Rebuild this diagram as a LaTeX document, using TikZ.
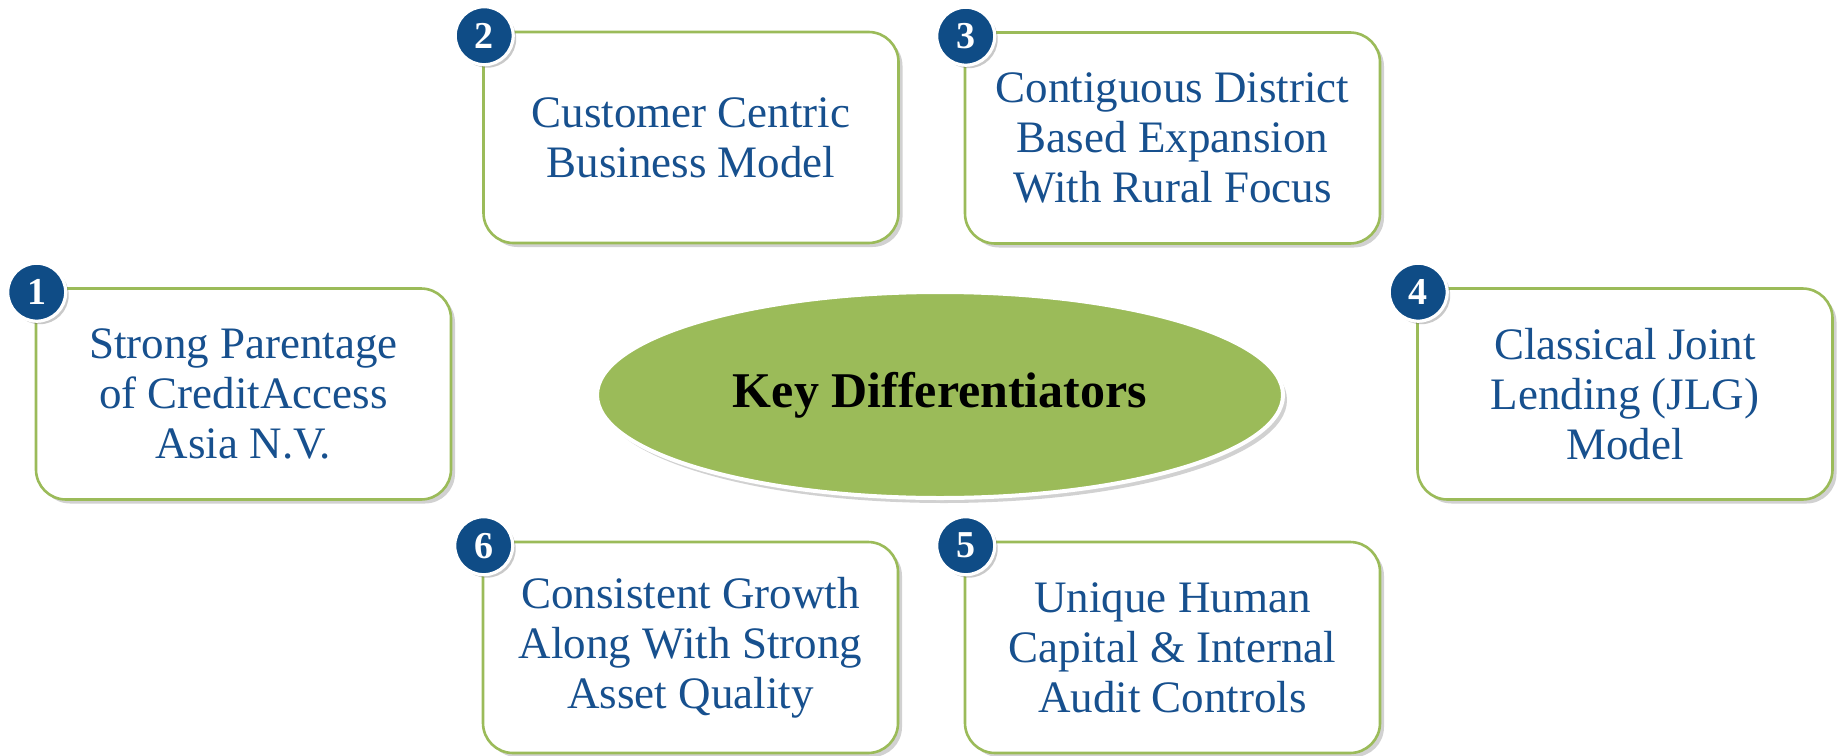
\documentclass[tikz,border=0pt]{standalone}
\usepackage{fontspec}
\setmainfont{Liberation Serif}
\usepackage{xcolor}
\usepackage{tikz}
\usetikzlibrary{shapes.geometric,shadows}
\definecolor{cgreen}{HTML}{9BBB59}
\definecolor{cblue}{HTML}{0F4C86}
\definecolor{ctext}{HTML}{17508E}
\tikzset{
  diffbox/.style={draw=cgreen, line width=1.3pt, fill=white, rounded corners=15pt, minimum width=207.5pt, minimum height=105.5pt, align=center, text=ctext, font=\fontsize{22.5}{25}\selectfont, drop shadow={shadow xshift=2pt, shadow yshift=-2pt, opacity=0.3, fill=black!60}},
  badge/.style={circle, draw=white, line width=1.6pt, fill=cblue, text=white, minimum size=29pt, inner sep=0pt, font=\fontsize{19}{19}\selectfont\bfseries, drop shadow={shadow xshift=1.5pt, shadow yshift=-1.5pt, opacity=0.35, fill=black!60}},
  hub/.style={ellipse, draw=white, line width=2pt, fill=cgreen, minimum width=343pt, minimum height=103pt, font=\fontsize{25}{25}\selectfont\bfseries, drop shadow={shadow xshift=2pt, shadow yshift=-2.5pt, opacity=0.3, fill=black!60}},
}
\begin{document}
\begin{tikzpicture}[x=0.5pt,y=-0.5pt]
\useasboundingbox (0,0) rectangle (1846,755);
\node[hub] (key) at (940,395) {Key Differentiators};
\foreach \i/\x/\y/\t in {
  1/243.5/394/{Strong Parentage\\of CreditAccess\\Asia N.V.},
  2/691/137.5/{Customer Centric\\Business Model},
  3/1172.5/138/{Contiguous District\\Based Expansion\\With Rural Focus},
  4/1625/394/{Classical Joint\\Lending (JLG)\\Model},
  5/1172.5/647.5/{Unique Human\\Capital \& Internal\\Audit Controls},
  6/690.5/647.5/{Consistent Growth\\Along With Strong\\Asset Quality}} {
  \node[diffbox] (d\i) at (\x,\y) {\t};
  \node[badge] (n\i) at ([xshift=1pt,yshift=-2.5pt]d\i.north west) {\i};
}
\end{tikzpicture}
\end{document}
